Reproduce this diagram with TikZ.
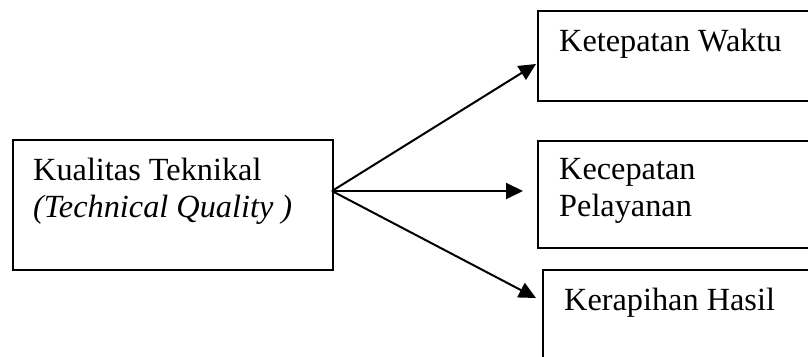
\documentclass[tikz,border=0pt]{standalone}
\usepackage{fontspec}
\setmainfont{Liberation Serif}
\usetikzlibrary{arrows.meta}
\begin{document}
\begin{tikzpicture}[x=1pt,y=-1pt,
  boxnode/.style={draw=black,line width=1.6pt,rectangle,anchor=north west,inner sep=0pt},
  label/.style={anchor=base west,inner sep=0pt,font=\fontsize{32.3}{37}\selectfont},
  conn/.style={line width=2pt,-{Triangle[length=17pt,width=16pt]}}]
\useasboundingbox (0,0) rectangle (808,356);
\clip (0,0) rectangle (808,356);
\fill[white] (0,0) rectangle (808,356);
% boxes
\node[boxnode,minimum width=320pt,minimum height=130pt] (src) at (12,139) {};
\node[boxnode,minimum width=300pt,minimum height=90pt] (b1) at (537,10) {};
\node[boxnode,minimum width=300pt,minimum height=107pt] (b2) at (537,140) {};
\node[boxnode,minimum width=300pt,minimum height=120pt] (b3) at (542,269) {};
% texts
\node[label] (t1) at (33,180) {Kualitas Teknikal};
\node[label] (t2) at (33,217) {\itshape (Technical Quality )};
\node[label] (t3) at (559,51) {Ketepatan Waktu};
\node[label] (t4) at (559,179) {Kecepatan};
\node[label] (t5) at (559,216) {Pelayanan};
\node[label] (t6) at (564,310) {Kerapihan Hasil};
% connectors
\coordinate (o) at (332,191);
\coordinate (e1) at (536,64);
\coordinate (e2) at (523,191);
\coordinate (e3) at (536,298);
\draw[conn] (o) -- (e1);
\draw[conn] (o) -- (e2);
\draw[conn] (o) -- (e3);
\end{tikzpicture}
\end{document}
